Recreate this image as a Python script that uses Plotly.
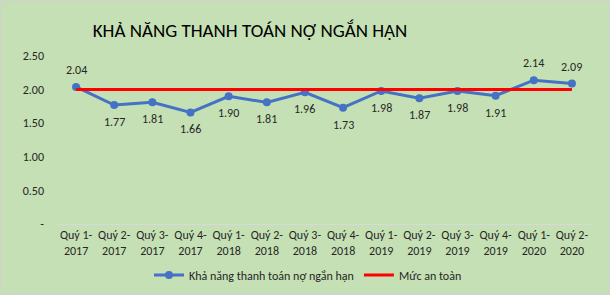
import plotly.graph_objects as go

categories = ["Quý 1-<br>2017", "Quý 2-<br>2017", "Quý 3-<br>2017", "Quý 4-<br>2017",
              "Quý 1-<br>2018", "Quý 2-<br>2018", "Quý 3-<br>2018", "Quý 4-<br>2018",
              "Quý 1-<br>2019", "Quý 2-<br>2019", "Quý 3-<br>2019", "Quý 4-<br>2019",
              "Quý 1-<br>2020", "Quý 2-<br>2020"]
ratio = [2.04, 1.77, 1.81, 1.66, 1.90, 1.81, 1.96, 1.73, 1.98, 1.87, 1.98, 1.91, 2.14, 2.09]
safe_level = [2.00] * len(categories)
label_above = [True, False, False, False, False, False, False, False, False, False, False, False, True, True]
y_tickvals = [0, 0.5, 1.0, 1.5, 2.0, 2.5]
y_ticktext = ["-", "0.50", "1.00", "1.50", "2.00", "2.50"]

FONT = "Carlito, Liberation Sans Narrow, Lato, sans-serif"
W, H = 610, 295
L, R, T, B = 57, 19, 56, 71
pw, ph = W - L - R, H - T - B

fig = go.Figure()
fig.add_trace(go.Scatter(
    x=categories, y=ratio, mode="lines+markers",
    name="Khả năng thanh toán nợ ngắn hạn",
    line=dict(color="#4472C4", width=3),
    marker=dict(color="#4472C4", size=8),
))
fig.add_trace(go.Scatter(
    x=categories, y=safe_level, mode="lines",
    name="Mức an toàn",
    line=dict(color="#FF0000", width=3),
))

for c, v, up in zip(categories, ratio, label_above):
    fig.add_annotation(x=c, y=v, text=f"{v:.2f}", showarrow=False,
                       yshift=17 if up else -17,
                       font=dict(family=FONT, size=12, color="#262626"))

fig.add_shape(type="rect", xref="paper", yref="paper",
              x0=-(L - 1) / pw, x1=1 + (R - 1) / pw,
              y0=-(B - 1) / ph, y1=1 + (T - 1) / ph,
              line=dict(color="#D0D0D0", width=1), layer="below")

fig.update_layout(
    width=W, height=H,
    margin=dict(l=L, r=R, t=T, b=B, autoexpand=False),
    paper_bgcolor="#C5E0B4", plot_bgcolor="#C5E0B4",
    font=dict(family=FONT, size=12, color="#262626"),
    title=dict(text="KHẢ NĂNG THANH TOÁN NỢ NGẮN HẠN", xref="container", yref="container",
               x=250 / W, xanchor="center", y=1 - 30 / H, yanchor="middle",
               font=dict(family=FONT, size=19, color="#000000")),
    showlegend=True,
    legend=dict(orientation="h", xanchor="center", x=(308 - L) / pw,
                yanchor="middle", y=(224 - 275) / ph,
                bgcolor="rgba(0,0,0,0)", font=dict(family=FONT, size=12, color="#262626"),
                itemwidth=30),
    xaxis=dict(range=[-0.5, len(categories) - 0.5], showgrid=False, showline=True,
               linecolor="#D9D9D9", linewidth=1, automargin=False,
               ticks="", tickfont=dict(family=FONT, size=12, color="#262626")),
    yaxis=dict(range=[0, 2.5], tickvals=y_tickvals, ticktext=y_ticktext,
               showgrid=False, zeroline=False, showline=False, ticks="",
               automargin=False, ticklabelstandoff=12,
               tickfont=dict(family=FONT, size=12, color="#262626")),
)

fig.write_html("out.html")
